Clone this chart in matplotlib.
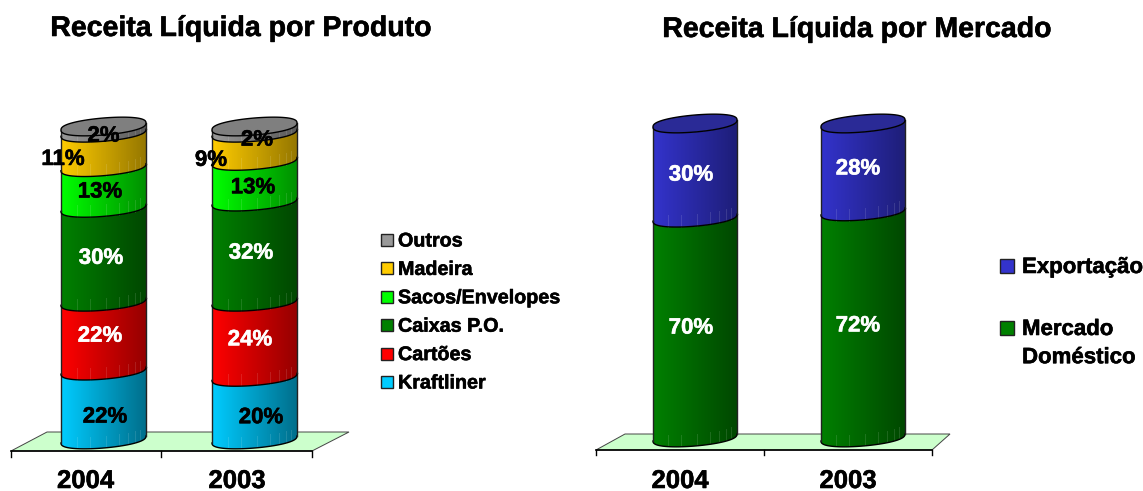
#recreating the two stacked cylinder charts
import numpy as np
import matplotlib
matplotlib.use("Agg")
import matplotlib.pyplot as plt
import matplotlib.patheffects as pe
from matplotlib.colors import LinearSegmentedColormap
from matplotlib.patches import Polygon, Rectangle

plt.rcParams['font.family'] = ['Liberation Sans', 'DejaVu Sans']

#data
years = ["2004", "2003"]
produtos = ["Kraftliner", "Cartões", "Caixas P.O.", "Sacos/Envelopes", "Madeira", "Outros"]
produto_2004 = [22, 22, 30, 13, 11, 2]
produto_2003 = [20, 24, 32, 13, 9, 2]
mercados = ["Mercado\nDoméstico", "Exportação"]
mercado_2004 = [70, 30]
mercado_2003 = [72, 28]

#colours: bright side, dark side, label
produto_cores = [("#00ccff", "#006f8c", "black"), ("#ff0000", "#960000", "white"),
                 ("#008000", "#004800", "white"), ("#00ff00", "#009000", "black"),
                 ("#ffcc00", "#967800", "black"), ("#999999", "#5a5a5a", "black")]
mercado_cores = [("#008000", "#004800", "white"), ("#3333cc", "#1e1e78", "white")]
facets = [-27, -14, 2, 15, 24, 31, 36]

W, H = 1143, 491
fig = plt.figure(figsize=(W / 100, H / 100), dpi=100)
ax = fig.add_axes([0, 0, 1, 1])

def label(x, y, s, size, color='black', **kw):
    ax.text(x, y, s, fontsize=size, fontweight='bold', color=color, zorder=6,
            path_effects=[pe.withStroke(linewidth=0.4, foreground=color)], **kw)

def curve(cx, a, y_left, sign=1, b=8.5, tilt=3.5, n=60):
    # half of the tilted ellipse, sign 1 is the front, -1 the back
    t = np.linspace(np.pi, 0, n)
    x = cx + a * np.cos(t)
    y = y_left - tilt + sign * b * np.sin(t) ** 0.8 + tilt * (cx - x) / a
    return x, y

def cylinder(cx, a, values, colors, base, px, dx, dy, top_color):
    y = base
    for i, v in enumerate(values):
        y2 = y - v * px
        x0, y0 = curve(cx, a, y)
        x1, y1 = curve(cx, a, y2)
        pts = np.vstack([np.c_[x0, y0], np.c_[x1, y1][::-1]])
        cmap = LinearSegmentedColormap.from_list("c", [colors[i][0], colors[i][1]])
        im = ax.imshow(np.linspace(0, 1, 100).reshape(1, -1), extent=[cx - a, cx + a, 491, 0],
                       aspect='auto', cmap=cmap, zorder=3)
        im.set_clip_path(Polygon(pts, closed=True, transform=ax.transData))
        for f in facets:
            low = np.interp(cx + f, x0, y0)
            ax.plot([cx + f, cx + f], [low, low - 12], color='white', alpha=0.12, lw=0.7, zorder=3.5)
        ax.plot(x0, y0, color='black', lw=1, zorder=4)
        ax.plot([cx - a, cx - a], [y, y2], color='#222222', lw=1, zorder=4)
        ax.plot([cx + a, cx + a], [y - 7, y2 - 7], color='#222222', lw=1, zorder=4)
        label(cx + dx[i], (y + y2) / 2 + dy[i] + 1, str(v) + "%", 16, colors[i][2], ha='center', va='center')
        y = y2
    x1, y1 = curve(cx, a, y)
    x2, y2 = curve(cx, a, y, sign=-1)
    ax.add_patch(Polygon(np.vstack([np.c_[x1, y1], np.c_[x2, y2][::-1]]), closed=True, facecolor=top_color,
                         edgecolor='black', lw=1, zorder=5))

def floor(corners, ticks, tick_y, tick_end):
    ax.add_patch(Polygon(corners, closed=True, facecolor='#ccffcc', edgecolor='#444444', lw=0.7, zorder=1))
    ax.plot([ticks[0], ticks[-1]], [tick_y, tick_y], color='black', lw=1.2, zorder=2)
    for t in ticks:
        ax.plot([t, t], [tick_y, tick_end], color='black', lw=1, zorder=2)

#left chart
floor([(11, 451), (47, 432), (349, 432), (312, 451)], [11, 161, 312], 451, 457)
cylinder(103.5, 42.5, produto_2004, produto_cores, 443, 3.13,
         [1.5, -3.5, -2.5, -3.5, -40.5, 0], [7.5, -4.5, -1, 0, 5, 2], "#7f7f7f")
cylinder(254.5, 42.5, produto_2003, produto_cores, 443, 3.13,
         [6.5, -4.5, -3.5, -1.5, -43.5, 2.5], [5, -4, -3, 2, 9, 6], "#7f7f7f")

#right chart
floor([(596, 450), (625, 434), (950, 434), (932, 450)], [596, 764, 932], 450, 455)
cylinder(695, 42, mercado_2004, mercado_cores, 441, 3.14, [-4, -4], [-4, 0], "#2a2a96")
cylinder(863, 42, mercado_2003, mercado_cores, 441, 3.14, [-5, -5], [-3, -3], "#2a2a96")

#titles
label(241, 29, "Receita Líquida por Produto", 20.5, ha='center', va='center')
label(857, 30, "Receita Líquida por Mercado", 20.5, ha='center', va='center')

#year labels
for x, y_txt in zip([85.5, 237, 680, 848], years * 2):
    label(x, 481, y_txt, 18.5, ha='center', va='center')

#legends
for i, name in enumerate(produtos):
    y = 383 - i * 28.4
    ax.add_patch(Rectangle((381, y - 7), 12, 12, facecolor=produto_cores[i][0], edgecolor='#222222', lw=1, zorder=3))
    label(398, y, name, 14.2, ha='left', va='center')

rows = [328, 266]
for i, name in enumerate(mercados):
    y = rows[i]
    ax.add_patch(Rectangle((1000, y - 7), 14, 14, facecolor=mercado_cores[i][0], edgecolor='#222222', lw=1, zorder=3))
    label(1022, y - 9, name, 16, ha='left', va='top', linespacing=1.45)

ax.set_xlim(0, W)
ax.set_ylim(H, 0)
ax.axis('off')
fig.savefig("out.png", dpi=100)
